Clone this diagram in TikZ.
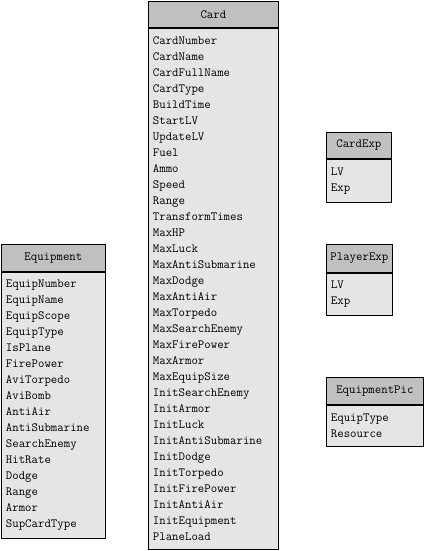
\documentclass[tikz,border=0pt]{standalone}
\usepackage{fontspec}
\usetikzlibrary{positioning,shadows}
\definecolor{headgray}{RGB}{192,192,192}
\definecolor{bodygray}{RGB}{229,229,229}
\begin{document}
\begin{tikzpicture}[x=1pt, y=-1pt,
    every node/.style={font=\ttfamily\fontsize{12.5}{16}\selectfont},
    boxshadow/.style={drop shadow={shadow xshift=1pt, shadow yshift=-1pt, fill=black, opacity=1}},
    classhead/.style={draw, line width=0.8pt, fill=headgray, boxshadow, anchor=north west, inner sep=0pt},
    classbody/.style={draw, line width=0.8pt, fill=bodygray, boxshadow, anchor=north, inner xsep=4.5pt, inner ysep=0pt, align=left}]
    \useasboundingbox (0,0) rectangle (425,551);

    % Card
    \node [classhead, minimum width=130pt, minimum height=26pt] (card) at (148,1) {Card};
    \node [classbody, minimum width=130pt, text width=121pt, minimum height=521pt] (cardbody) at (card.south) {%
        CardNumber\\CardName\\CardFullName\\CardType\\BuildTime\\StartLV\\UpdateLV\\Fuel\\%
        Ammo\\Speed\\Range\\TransformTimes\\MaxHP\\MaxLuck\\MaxAntiSubmarine\\MaxDodge\\%
        MaxAntiAir\\MaxTorpedo\\MaxSearchEnemy\\MaxFirePower\\MaxArmor\\MaxEquipSize\\%
        InitSearchEnemy\\InitArmor\\InitLuck\\InitAntiSubmarine\\InitDodge\\InitTorpedo\\%
        InitFirePower\\InitAntiAir\\InitEquipment\\PlaneLoad};

    % Equipment
    \node [classhead, minimum width=104pt, minimum height=27pt] (equip) at (1,244) {Equipment};
    \node [classbody, minimum width=104pt, text width=95pt, minimum height=266pt] (equipbody) at (equip.south) {%
        EquipNumber\\EquipName\\EquipScope\\EquipType\\IsPlane\\FirePower\\AviTorpedo\\AviBomb\\%
        AntiAir\\AntiSubmarine\\SearchEnemy\\HitRate\\Dodge\\Range\\Armor\\SupCardType};

    % CardExp
    \node [classhead, minimum width=65pt, minimum height=26pt] (cardexp) at (326,132) {CardExp};
    \node [classbody, minimum width=65pt, text width=56pt, minimum height=43pt] (cardexpbody) at (cardexp.south) {LV\\Exp};

    % PlayerExp
    \node [classhead, minimum width=66pt, minimum height=28pt] (playerexp) at (326,244) {PlayerExp};
    \node [classbody, minimum width=66pt, text width=57pt, minimum height=42pt] (playerexpbody) at (playerexp.south) {LV\\Exp};

    % EquipmentPic
    \node [classhead, minimum width=97pt, minimum height=27pt] (equippic) at (326,377) {EquipmentPic};
    \node [classbody, minimum width=97pt, text width=88pt, minimum height=41pt] (equippicbody) at (equippic.south) {EquipType\\Resource};
\end{tikzpicture}
\end{document}
